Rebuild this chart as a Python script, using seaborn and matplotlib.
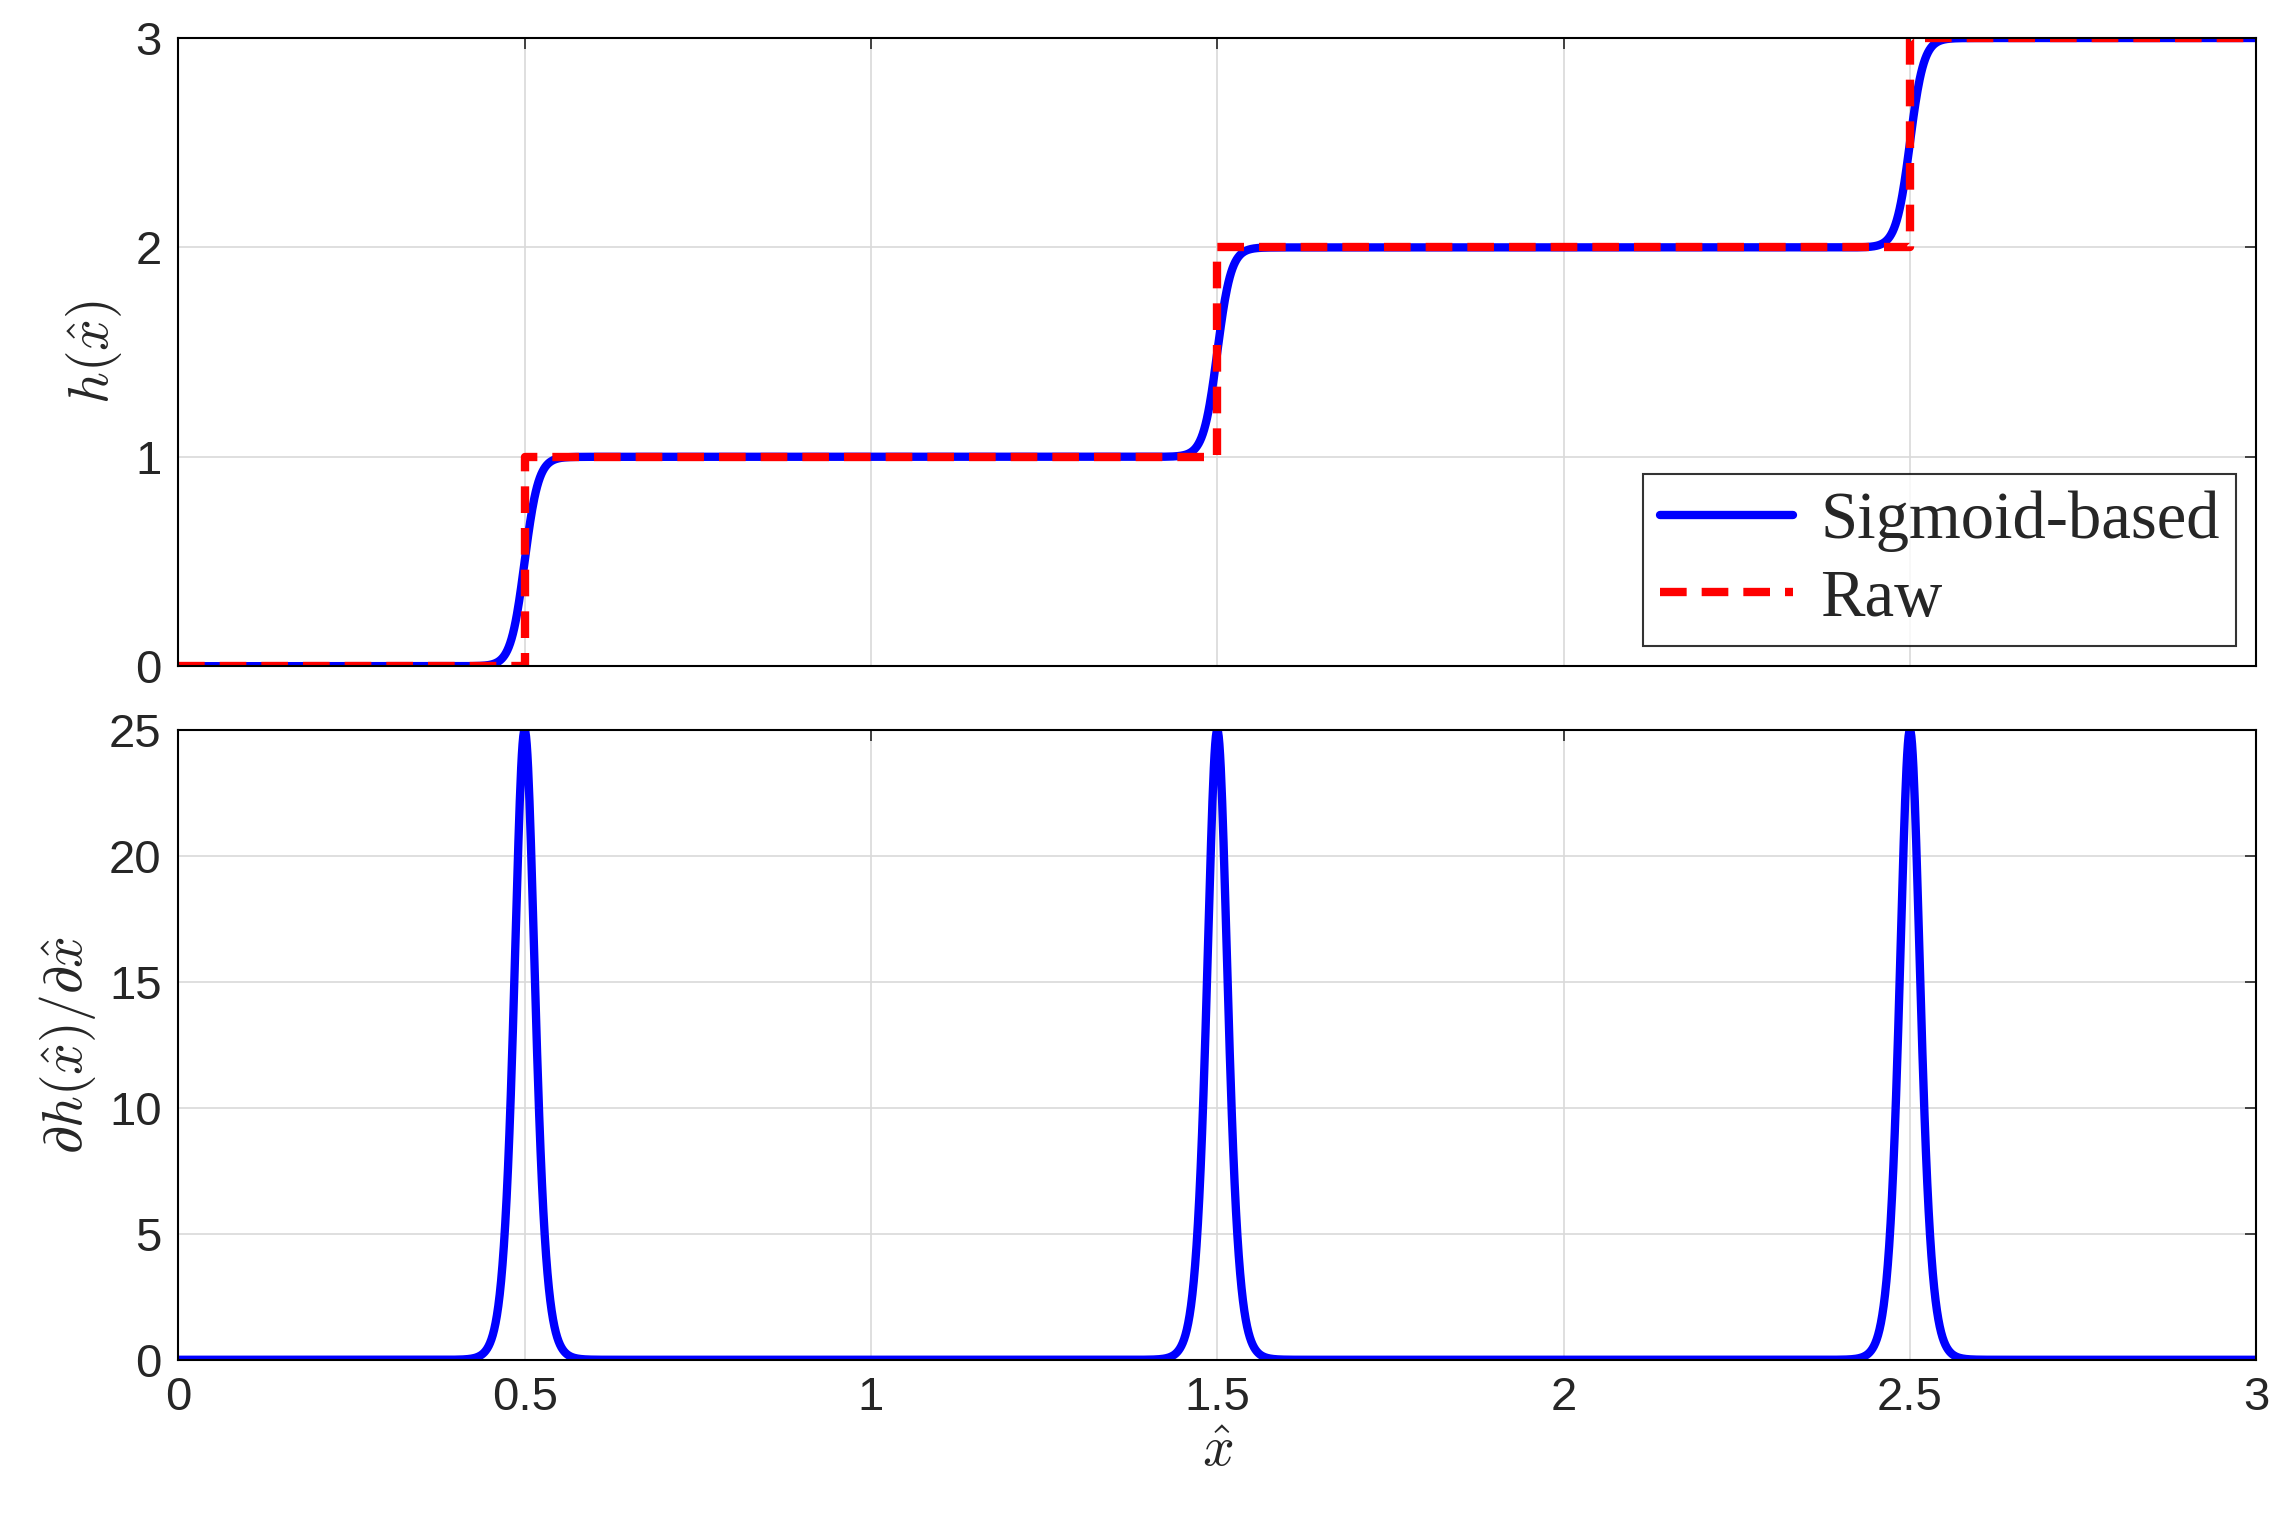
import numpy as np
import matplotlib
matplotlib.use("Agg")
import matplotlib.pyplot as plt
import seaborn as sns
import pandas as pd

step_centers = [0.5, 1.5, 2.5]
slope_k = 100.0
raw_x = [0.0, 0.5, 1.5, 2.5, 3.0]
raw_y = [0.0, 1.0, 2.0, 3.0, 3.0]
x_ticks = [0, 0.5, 1, 1.5, 2, 2.5, 3]
x_tick_labels = ["0", "0.5", "1", "1.5", "2", "2.5", "3"]
h_ticks = [0, 1, 2, 3]
d_ticks = [0, 5, 10, 15, 20, 25]

x = np.linspace(0, 3, 3001)
h = sum(1 / (1 + np.exp(-slope_k * (x - c))) for c in step_centers)
dh = sum(slope_k * np.exp(-slope_k * (x - c)) / (1 + np.exp(-slope_k * (x - c))) ** 2 for c in step_centers)
df = pd.DataFrame({"x": x, "h": h, "dh": dh})

sns.set_theme(style="white")
plt.rcParams['font.family'] = ['Arial', 'Liberation Sans', 'DejaVu Sans']
plt.rcParams['mathtext.fontset'] = 'cm'

fig = plt.figure(figsize=(22.86, 15.21), dpi=100)
ax1 = fig.add_axes([0.078, 0.562, 0.909, 0.413])
ax2 = fig.add_axes([0.078, 0.106, 0.909, 0.414])

sns.lineplot(data=df, x="x", y="h", ax=ax1, color="blue", lw=6, label="Sigmoid-based")
ax1.plot(raw_x, raw_y, drawstyle="steps-post", color="red", ls=(0, (3.2, 1.8)), lw=6, label="Raw")
sns.lineplot(data=df, x="x", y="dh", ax=ax2, color="blue", lw=6)

for ax, yt, yl in [(ax1, h_ticks, (0, 3)), (ax2, d_ticks, (0, 25))]:
    ax.set_xlim(0, 3)
    ax.set_ylim(*yl)
    ax.set_yticks(yt)
    ax.set_yticklabels([str(v) for v in yt])
    ax.set_xticks(x_ticks)
    ax.grid(True, color="#d9d9d9", lw=1.2)
    ax.tick_params(labelsize=34, direction="in", length=8, width=1.2, top=True, right=True, pad=12)
    for s in ax.spines.values():
        s.set_color("black"); s.set_linewidth(1.5)

ax1.set_xticklabels([])
ax2.set_xticklabels(x_tick_labels)
ax1.set_xlabel("")
ax1.set_ylabel(r"$h(\hat{x})$", fontsize=40, labelpad=8)
ax2.set_ylabel(r"$\partial h(\hat{x})/\partial\hat{x}$", fontsize=40, labelpad=8)
ax2.set_xlabel(r"$\hat{x}$", fontsize=40, labelpad=4)

leg = ax1.legend(loc="lower right", prop={"family": "Liberation Serif", "size": 48},
                 frameon=True, fancybox=False, edgecolor="black", handlelength=2.0,
                 borderaxespad=0.3, borderpad=0.25, labelspacing=0.25, handletextpad=0.4)
leg.get_frame().set_linewidth(1.5)

fig.savefig("out.png", dpi=100)
